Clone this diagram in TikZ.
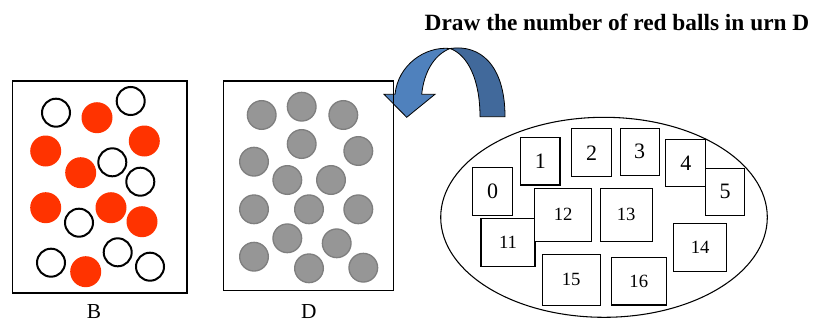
\documentclass[tikz,border=0pt]{standalone}
\usepackage{fontspec}
\setmainfont{Liberation Serif}
\usetikzlibrary{positioning}
\definecolor{ballred}{HTML}{FF3300}
\definecolor{ballgray}{HTML}{969696}
\definecolor{ballrim}{HTML}{7F7F7F}
\definecolor{arrowfront}{HTML}{4F81BD}
\definecolor{arrowback}{HTML}{41699B}
\tikzset{
    urn/.style={rectangle, draw, line width=0.9pt, inner sep=0pt},
    urnlabel/.style={anchor=base, font=\fontsize{16}{18}\selectfont},
    redball/.style={circle, fill=ballred, inner sep=0pt, minimum size=23.25pt},
    whiteball/.style={circle, draw, fill=white, line width=1.5pt, inner sep=0pt, minimum size=21pt},
    grayball/.style={circle, fill=ballgray, draw=ballrim, line width=1pt, inner sep=0pt, minimum size=21.5pt},
    numbox/.style={rectangle, draw, fill=white, line width=0.8pt, inner sep=0pt, font=\fontsize{16.5}{18}\selectfont},
    bignum/.style={numbox, font=\fontsize{14}{16}\selectfont},
}

\begin{document}
\begin{tikzpicture}[x=0.75pt, y=-0.75pt]
\useasboundingbox (0,0) rectangle (816,321);

% Title
\node[anchor=base, font=\bfseries\fontsize{17.5}{20}\selectfont] (title) at (617,30.7) {Draw the number of red balls in urn D};

% Curved arrow
\fill[arrowback, draw=black, line width=0.6pt] (450,48.5) .. controls (480,44) and (505,65) .. (505,116.7)
    -- (480,116.7) .. controls (480,80) and (468,55) .. (450,48.5) -- cycle;
\fill[arrowfront, draw=black, line width=0.6pt] (395,94.3) -- (384,94.3) -- (406.7,117.3) -- (435,94.3) -- (421.7,94.3)
    .. controls (424,72) and (434,55) .. (450,48.5)
    .. controls (425,46) and (398,65) .. (395,94.3) -- cycle;

% Urn B
\node[urn, minimum width=130.7pt, minimum height=159pt] (urnB) at (99.8,187) {};
\node[urnlabel] (labB) at (94,318.3) {B};
\foreach \x/\y [count=\i] in {97/117.7, 45.7/151, 144.3/141, 80.7/172.7, 45.7/207.7, 111/207.7, 142/221.7, 85.7/271.7}
    \node[redball] (r\i) at (\x,\y) {};
\foreach \x/\y [count=\i] in {56/112.7, 130.7/101, 112.3/162.3, 140.3/181.7, 79/222.7, 51/262.7, 117.7/252.3, 150/266.7}
    \node[whiteball] (w\i) at (\x,\y) {};

% Urn D
\node[urn, minimum width=127.5pt, minimum height=157.3pt] (urnD) at (308.3,185.8) {};
\node[urnlabel] (labD) at (308.7,318.3) {D};
\foreach \x/\y [count=\i] in {261.7/115, 301.7/106.7, 343.3/115, 301.7/144, 358.3/151, 254/161.7, 287.3/180, 331/180,
    254/209.3, 309/209.3, 358.3/209.3, 287.3/238.3, 336.7/243.3, 254/256.7, 309/268.3, 363.3/267.7}
    \node[grayball] (g\i) at (\x,\y) {};

% Pool of numbers
\draw[line width=0.8pt] (604,217.3) ellipse [x radius=163.3, y radius=100];
\node[numbox, minimum width=29.7pt, minimum height=35.7pt] (n0) at (492.5,191.5) {0};
\node[numbox, minimum width=29.5pt, minimum height=35.5pt] (n1) at (540.3,161.3) {1};
\node[numbox, minimum width=30pt, minimum height=35.8pt] (n2) at (591.7,152.8) {2};
\node[numbox, minimum width=29.5pt, minimum height=35.5pt] (n3) at (639.7,151.7) {3};
\node[numbox, minimum width=29.8pt, minimum height=35.3pt] (n4) at (685.8,162.8) {4};
\node[numbox, minimum width=29pt, minimum height=35.5pt] (n5) at (725,191.7) {5};
\node[bignum, minimum width=40.5pt, minimum height=35.8pt] (n11) at (508,242.2) {11};
\node[bignum, minimum width=42.8pt, minimum height=39.5pt] (n12) at (563.2,214.7) {12};
\node[bignum, minimum width=39.2pt, minimum height=39.5pt] (n13) at (626.2,214.7) {13};
\node[bignum, minimum width=39.8pt, minimum height=35.8pt] (n14) at (700.2,247.8) {14};
\node[bignum, minimum width=43.7pt, minimum height=38pt] (n15) at (571.2,279.7) {15};
\node[bignum, minimum width=41.3pt, minimum height=35.5pt] (n16) at (638.8,281.3) {16};

\end{tikzpicture}
\end{document}
